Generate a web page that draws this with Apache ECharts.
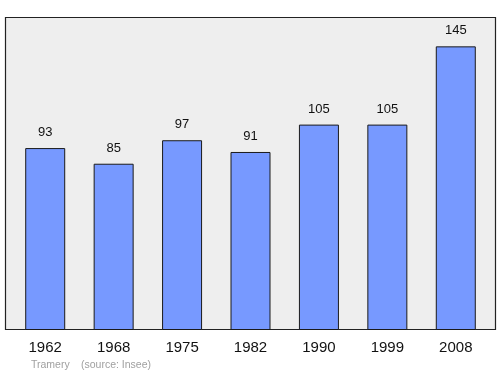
<!DOCTYPE html>
<html><head><meta charset="utf-8">
<script src="https://cdn.jsdelivr.net/npm/echarts@6/dist/echarts.min.js"></script>
<style>html,body{margin:0;padding:0;background:#fff}#c{width:500px;height:374px}</style>
</head><body><div id="c"></div>
<script>
const years = ['1962','1968','1975','1982','1990','1999','2008'];
const population = [93, 85, 97, 91, 105, 105, 145];
const chart = echarts.init(document.getElementById('c'), null, {renderer:'canvas'});
chart.setOption({
  animation:false,
  graphic:[
    {type:'rect', shape:{x:5.5,y:17.5,width:490,height:312}, style:{fill:'#eeeeee', stroke:'#222', lineWidth:1.2}, z:-1},
    {type:'text', left:31, top:360, style:{text:'Tramery', fill:'#a0a0a0', font:'10.5px "Liberation Sans", Arial, sans-serif'}},
    {type:'text', left:81, top:360, style:{text:'(source: Insee)', fill:'#a0a0a0', font:'10.5px "Liberation Sans", Arial, sans-serif'}}
  ],
  grid:{left:11, right:10, top:17, bottom:44},
  xAxis:{type:'category', data:years, axisLine:{show:false}, axisTick:{show:false},
    axisLabel:{color:'#111', fontSize:15, fontFamily:'Liberation Sans', margin:10}},
  yAxis:{type:'value', min:0, max:160, show:false, splitLine:{show:false}},
  series:[{type:'bar', data:population, barWidth:40,
    itemStyle:{color:'#7799ff', borderColor:'#1a1a1a', borderWidth:1},
    label:{show:true, position:'top', distance:9, color:'#111', fontSize:13, fontFamily:'Liberation Sans'}}]
});
</script></body></html>
